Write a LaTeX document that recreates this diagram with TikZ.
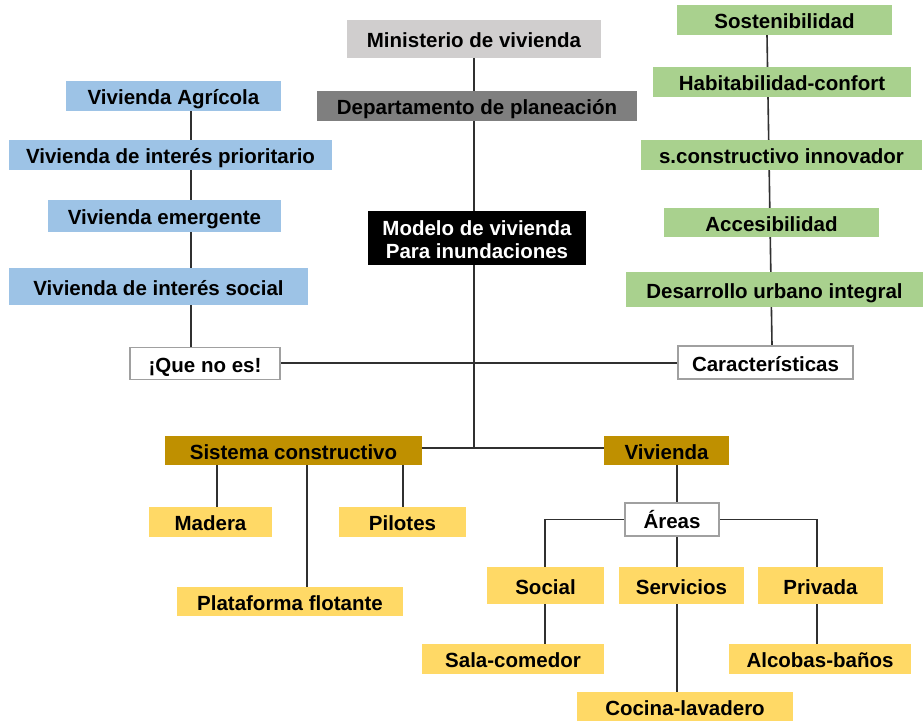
\documentclass[tikz,border=0pt]{standalone}
\usepackage{fontspec}
\setmainfont{Liberation Sans}
\usetikzlibrary{backgrounds}
\definecolor{cblue}{HTML}{9DC3E6}
\definecolor{cgreen}{HTML}{A9D18E}
\definecolor{cyellow}{HTML}{FFD966}
\definecolor{cgold}{HTML}{BF9000}
\definecolor{clgray}{HTML}{D0CECE}
\definecolor{cdgray}{HTML}{7F7F7F}
\definecolor{cborder}{HTML}{A0A0A0}
\definecolor{cline}{HTML}{303030}
\tikzset{
  box/.style={inner sep=0pt, text height=17.5pt, text depth=0pt,
    font=\fontsize{20.5}{23.3}\selectfont\bfseries, text=black},
  bluebox/.style={box, fill=cblue},
  greenbox/.style={box, fill=cgreen},
  yellowbox/.style={box, fill=cyellow},
  goldbox/.style={box, fill=cgold},
  outbox/.style={box, fill=white, draw=cborder, line width=1.5pt},
  conn/.style={draw=cline, line width=1.6pt},
}
\newcommand{\bx}[7]{% style, name, cx, cy, w, h, text
  \node[#1, minimum width=#5pt, minimum height=#6pt] (#2) at (#3,#4) {#7};}
\begin{document}
\begin{tikzpicture}[x=1pt,y=-1pt]
\useasboundingbox (0,0) rectangle (923,720);

% top column
\bx{box, fill=clgray}{mini}{474}{39}{254}{38}{Ministerio de vivienda}
\bx{box, fill=cdgray}{dept}{477}{106}{320}{30}{Departamento de planeación}
\node[inner sep=0pt, fill=black, text=white,
  font=\fontsize{20.5}{23.3}\selectfont\bfseries,
  minimum width=218pt, minimum height=54pt] (modelo) at (477,238)
  {\raisebox{-4pt}[\height][\depth]{\begin{tabular}{@{}c@{}}Modelo de vivienda\\Para inundaciones\end{tabular}}};

% left column
\bx{bluebox}{agri}{173.5}{96}{215}{30}{Vivienda Agrícola}
\bx{bluebox}{prior}{170.5}{155}{323}{30}{Vivienda de interés prioritario}
\bx{bluebox}{emerg}{164.5}{216}{233}{32}{Vivienda emergente}
\bx{bluebox}{vis}{158.5}{286.5}{299}{37}{Vivienda de interés social}
\bx{outbox}{queno}{205}{363.5}{150}{32}{¡Que no es!}

% right column
\bx{greenbox}{sost}{784.5}{20}{215}{30}{Sostenibilidad}
\bx{greenbox}{habit}{782}{82}{258}{30}{Habitabilidad-confort}
\bx{greenbox}{scons}{781.5}{155}{281}{30}{s.constructivo innovador}
\bx{greenbox}{acces}{771.5}{222.5}{215}{29}{Accesibilidad}
\bx{greenbox}{desar}{774.5}{289.5}{297}{35}{Desarrollo urbano integral}
\bx{outbox}{carac}{765.5}{362.5}{175}{33}{Características}

% lower part
\bx{goldbox}{sist}{293.5}{450.5}{257}{29}{Sistema constructivo}
\bx{goldbox}{viv}{666.5}{450.5}{125}{29}{Vivienda}
\bx{yellowbox}{madera}{210.5}{522}{123}{30}{Madera}
\bx{yellowbox}{pilotes}{402.5}{522}{127}{30}{Pilotes}
\bx{yellowbox}{plataf}{290}{601.5}{226}{29}{Plataforma flotante}
\bx{outbox}{areas}{672}{519.5}{94}{33}{Áreas}
\bx{yellowbox}{social}{545.5}{585.5}{117}{37}{Social}
\bx{yellowbox}{serv}{681.5}{585.5}{125}{37}{Servicios}
\bx{yellowbox}{priv}{820.5}{585.5}{125}{37}{Privada}
\bx{yellowbox}{sala}{513}{659}{182}{30}{Sala-comedor}
\bx{yellowbox}{alco}{820}{659}{182}{30}{Alcobas-baños}
\bx{yellowbox}{cocina}{685}{707}{216}{30}{Cocina-lavadero}

% helper coordinates
\coordinate (cx) at (474,448);
\coordinate (lx) at (191,0);
\coordinate (g1) at (767,35);
\coordinate (g2) at (772,345);
\coordinate (vx) at (677,0);
\coordinate (sx) at (545,0);
\coordinate (px) at (817,0);
\coordinate (mx) at (217,0);
\coordinate (fx) at (307,0);
\coordinate (ix) at (403,0);

\begin{scope}[on background layer]
  \fill[white] (0,0) rectangle (923,720);
  % centre spine
  \draw[conn] (cx |- mini.south) -- (cx);
  \draw[conn] (sist.east |- cx) -- (viv.west |- cx);
  \draw[conn] (queno.east |- 0,363) -- (carac.west |- 0,363);
  % left chain
  \draw[conn] (lx |- agri.south) -- (lx |- queno.north);
  % right chain
  \draw[conn] (g1) -- (g2);
  % sistema constructivo
  \draw[conn] (mx |- sist.south) -- (mx |- madera.north);
  \draw[conn] (fx |- sist.south) -- (fx |- plataf.north);
  \draw[conn] (ix |- sist.south) -- (ix |- pilotes.north);
  % vivienda
  \draw[conn] (vx |- viv.south) -- (vx |- cocina.north);
  \draw[conn] (sx |- social.north) -- (sx |- areas.west) -- (px |- areas.east) -- (px |- priv.north);
  \draw[conn] (sx |- social.south) -- (sx |- sala.north);
  \draw[conn] (px |- priv.south) -- (px |- alco.north);
\end{scope}
\end{tikzpicture}
\end{document}
